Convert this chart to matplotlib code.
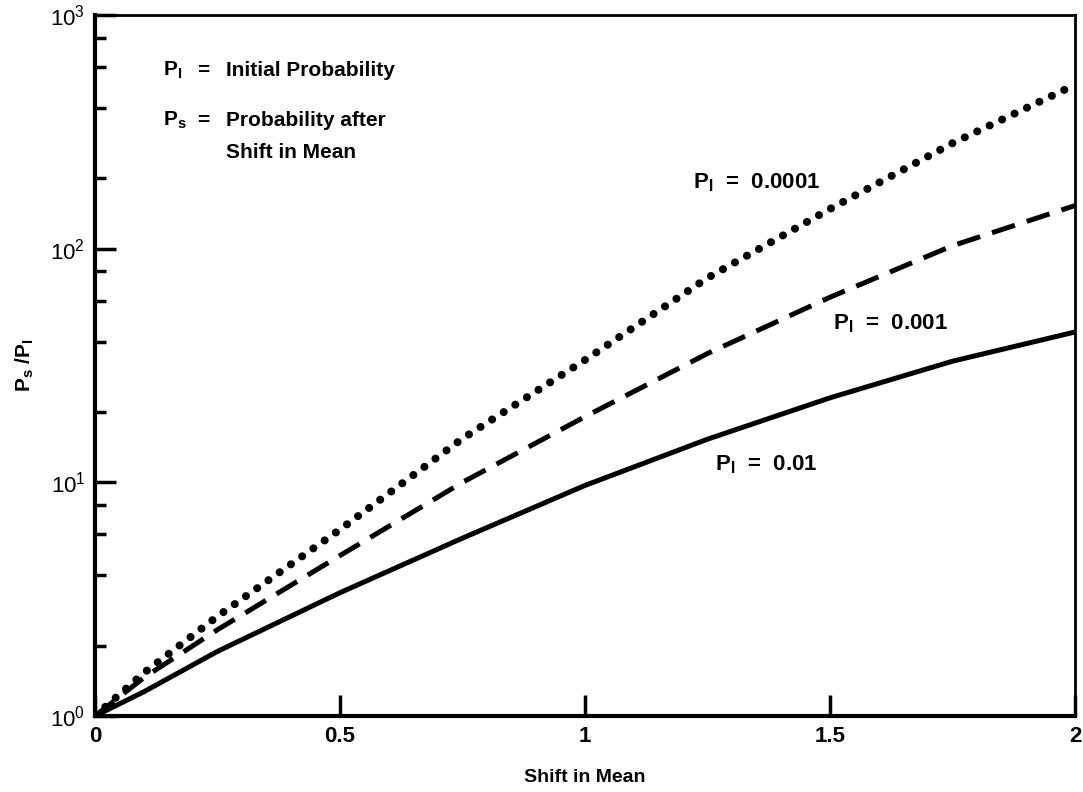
import matplotlib.pyplot as plt
from matplotlib.ticker import LogLocator, FixedLocator

plt.rcParams['font.family'] = ['Liberation Sans', 'DejaVu Sans']
plt.rcParams['mathtext.fontset'] = 'custom'
plt.rcParams['mathtext.rm'] = 'Liberation Sans:bold'
plt.rcParams['mathtext.it'] = 'Liberation Sans:bold'
plt.rcParams['mathtext.bf'] = 'Liberation Sans:bold'

# values
shift = [0, 0.1, 0.25, 0.5, 0.75, 1.0, 1.25, 1.5, 1.75, 2.0]
ratio_001 = [1, 1.27, 1.89, 3.37, 5.77, 9.7, 15.3, 23, 33, 44]
ratio_0001 = [1, 1.46, 2.34, 4.86, 10, 19.1, 35.6, 62, 103, 153]
ratio_00001 = [1, 1.53, 2.67, 6.28, 15.4, 33.4, 75, 148, 283, 503]

fig = plt.figure(figsize=(10.83, 7.92), dpi=100)
ax = fig.add_axes([0.0877, 0.096, 0.905, 0.885])

ax.plot(shift, ratio_001, color='black', lw=3.6, solid_capstyle='round')
ax.plot(shift, ratio_0001, color='black', lw=3.6, linestyle=(0, (4.8, 2.5)))
ax.plot(shift, ratio_00001, color='black', lw=5.8, linestyle=(0, (0.01, 1.7)),
        dash_capstyle='round')

ax.set_yscale('log')
ax.set_xlim(0, 2)
ax.set_ylim(1, 1000)

ax.xaxis.set_major_locator(FixedLocator([0, 0.5, 1, 1.5, 2]))
ax.set_xticklabels(['0', '0.5', '1', '1.5', '2'], fontweight='bold')
ax.yaxis.set_major_locator(LogLocator(base=10, numticks=10))
ax.yaxis.set_minor_locator(LogLocator(base=10, subs=[2, 4, 6, 8], numticks=10))
ax.yaxis.set_minor_formatter(plt.NullFormatter())

ax.tick_params(axis='both', which='major', direction='in', length=15, width=2.5,
               labelsize=16, pad=7)
ax.tick_params(axis='y', which='minor', direction='in', length=8, width=2.5)
for side in ['left', 'bottom']:
    ax.spines[side].set_linewidth(3)
for side in ['right', 'top']:
    ax.spines[side].set_linewidth(2)

ax.set_xlabel('Shift in Mean', fontsize=14, fontweight='bold', labelpad=16)
ax.set_ylabel(r'P$_\mathregular{s}$ /P$_\mathregular{I}$', fontsize=15,
              fontweight='bold', labelpad=10)

def px(x, y):
    return (x - 95) / 980, (716 - y) / 701

kw = dict(transform=ax.transAxes, fontsize=15, fontweight='bold', va='center')
ax.text(*px(163, 70), r'P$_\mathregular{I}$', **kw)
ax.text(*px(197, 70), '=', **kw)
ax.text(*px(226, 70), 'Initial Probability', **kw)
ax.text(*px(163, 120), r'P$_\mathregular{s}$', **kw)
ax.text(*px(197, 120), '=', **kw)
ax.text(*px(226, 120), 'Probability after', **kw)
ax.text(*px(226, 152), 'Shift in Mean', **kw)

kw2 = dict(transform=ax.transAxes, fontsize=16, fontweight='bold', va='center')
ax.text(*px(693, 183), r'P$_\mathregular{I}$  =  0.0001', **kw2)
ax.text(*px(833, 324), r'P$_\mathregular{I}$  =  0.001', **kw2)
ax.text(*px(715, 465), r'P$_\mathregular{I}$  =  0.01', **kw2)

plt.savefig('out.png', dpi=100)
